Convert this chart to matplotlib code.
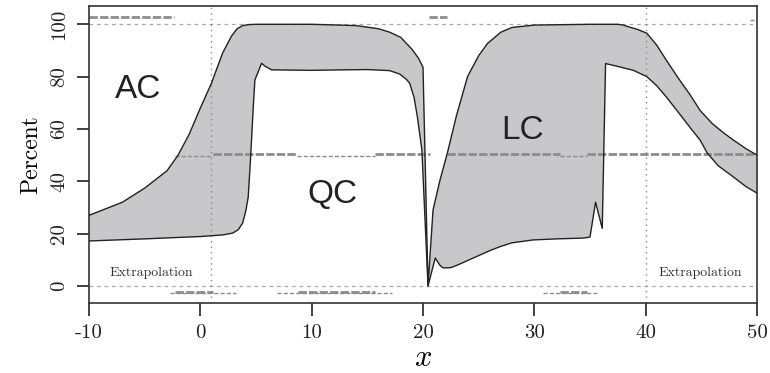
import numpy as np
import matplotlib
matplotlib.use('Agg')
import matplotlib.pyplot as plt

plt.rcParams['font.family'] = ['cmr10', 'DejaVu Serif']
plt.rcParams['mathtext.fontset'] = 'cm'
plt.rcParams['axes.unicode_minus'] = False

# upper edge of the band
upper_x = [-10, -7, -5, -3, -2, -1, 0, 1, 2, 2.8, 3.3, 3.8, 4.4, 5, 10, 14, 16, 17, 18, 19, 19.6, 20,
           20.45, 20.9, 21.5, 22.2, 23, 24, 25, 25.8, 27, 28, 30, 35, 37.5, 38, 38.5, 39.3, 40.1,
           41, 41.9, 43, 44, 44.9, 46, 47, 47.9, 49, 50]
upper_y = [27, 32, 37.4, 44, 50, 58, 68, 77.5, 89, 95.5, 98.3, 99.5, 99.9, 100, 100, 99.5, 98.3, 97, 95, 90.5, 87, 83.6,
           0, 29, 40, 51, 65, 80, 88, 92.7, 97, 98.8, 99.7, 100, 100, 99.7, 99, 98, 96.6,
           92, 86, 79, 73, 67, 62, 58.5, 55.7, 52.5, 50]

# lower edge of the band
lower_x = [-10, -5, 0, 2, 2.9, 3.4, 3.8, 4.1, 4.3, 4.5, 4.6, 4.75, 4.9, 5.5, 5.8, 6.4, 8, 10, 13, 15,
           17, 17.9, 18.5, 18.8, 19.2, 19.5, 19.9, 20.45, 21.1, 21.5, 21.8, 22.5, 23.1, 25.1, 26,
           26.9, 28, 29.9, 32, 34.4, 35.0, 35.5, 36.1, 36.4, 37.4, 38.9, 40.1, 41, 41.9, 43, 44,
           44.9, 45.5, 46.5, 47.9, 49, 50]
lower_y = [17.2, 18, 18.9, 19.5, 20.2, 21.5, 24, 29, 34, 48, 56, 68, 78.7, 85.1, 84, 82.6, 82.5, 82.4, 82.6, 82.7,
           82.3, 81, 79, 77.5, 72, 64.5, 52, 0, 10.7, 8, 6.9, 7, 8, 11.8, 13.5,
           15, 16.5, 17.6, 18, 18.3, 18.7, 32, 22, 85, 84, 82.4, 80, 76.5, 72, 66, 60.5,
           55.7, 51, 46, 41.6, 38, 35.5]

# grey dashed segments: (x start, x end, y)
thin_seg = [(-2.3, 1.1, 49.5), (8.7, 15.7, 49.5), (32.3, 34.7, 49.5),
            (-2.7, 3.2, -2.7), (6.9, 17.2, -2.7), (30.8, 35.6, -2.7), (49.4, 50, 101.5)]
thick_seg = [(1.1, 8.7, 50.4), (15.7, 20.6, 50.4), (22.2, 32.3, 50.4), (34.7, 50, 50.4),
             (-2.3, 1.1, -2.4), (8.8, 15.7, -2.4), (32.3, 34.7, -2.4),
             (-10, -2.4, 102.8), (20.5, 22.2, 102.8)]

region_names = ['AC', 'QC', 'LC']
region_x = [-5.6, 11.9, 28.9]
region_y = [74.9, 34.8, 59.6]

x_ticks = [-10, 0, 10, 20, 30, 40, 50]
y_ticks = [0, 20, 40, 60, 80, 100]

fig = plt.figure(figsize=(7.7, 3.73), dpi=100)
ax = fig.add_axes([0.1156, 0.1877, 0.8675, 0.7963])

poly_x = np.concatenate([upper_x, lower_x[::-1]])
poly_y = np.concatenate([upper_y, lower_y[::-1]])
ax.fill(poly_x, poly_y, color='#c8c8ca', lw=0, zorder=1)
ax.plot(upper_x, upper_y, color='#222222', lw=1.0, zorder=3)
ax.plot(lower_x, lower_y, color='#222222', lw=1.0, zorder=3)

for x0, x1, y in thin_seg:
    ax.plot([x0, x1], [y, y], color='#8c8c8c', lw=1.0, ls=(0, (3, 1.5)), zorder=2)
for x0, x1, y in thick_seg:
    ax.plot([x0, x1], [y, y], color='#8c8c8c', lw=2.0, ls=(0, (3, 0.8)), zorder=2)

for yv in [0, 100]:
    ax.axhline(yv, color='#a8a8a8', lw=0.9, ls=(0, (3, 3)), zorder=2)
for xv in [1, 40]:
    ax.axvline(xv, color='#8a8a8a', lw=1.0, ls=(0, (1, 3)), zorder=2)

for name, tx, ty in zip(region_names, region_x, region_y):
    ax.text(tx, ty, name, family='Liberation Sans', fontsize=24, color='#222222',
            ha='center', va='center')

ax.text(-4.4, 5, 'Extrapolation', fontsize=10, ha='center', va='center', color='#333333')
ax.text(44.9, 5, 'Extrapolation', fontsize=10, ha='center', va='center', color='#333333')

ax.set_xlim(-10, 50)
ax.set_ylim(-6.5, 107)
ax.set_xticks(x_ticks)
ax.set_xticklabels([str(v) for v in x_ticks])
ax.set_yticks(y_ticks)
ax.set_yticklabels([str(v) for v in y_ticks], rotation=90, va='center')
ax.tick_params(direction='out', length=9, width=1.2, labelsize=15, colors='#222222', pad=6)
for s in ax.spines.values():
    s.set_linewidth(1.2)
    s.set_color('#333333')

ax.set_xlabel('$x$', fontsize=22, labelpad=2)
ax.set_ylabel('Percent', fontsize=17, labelpad=6)

fig.savefig('out.png', dpi=100)
